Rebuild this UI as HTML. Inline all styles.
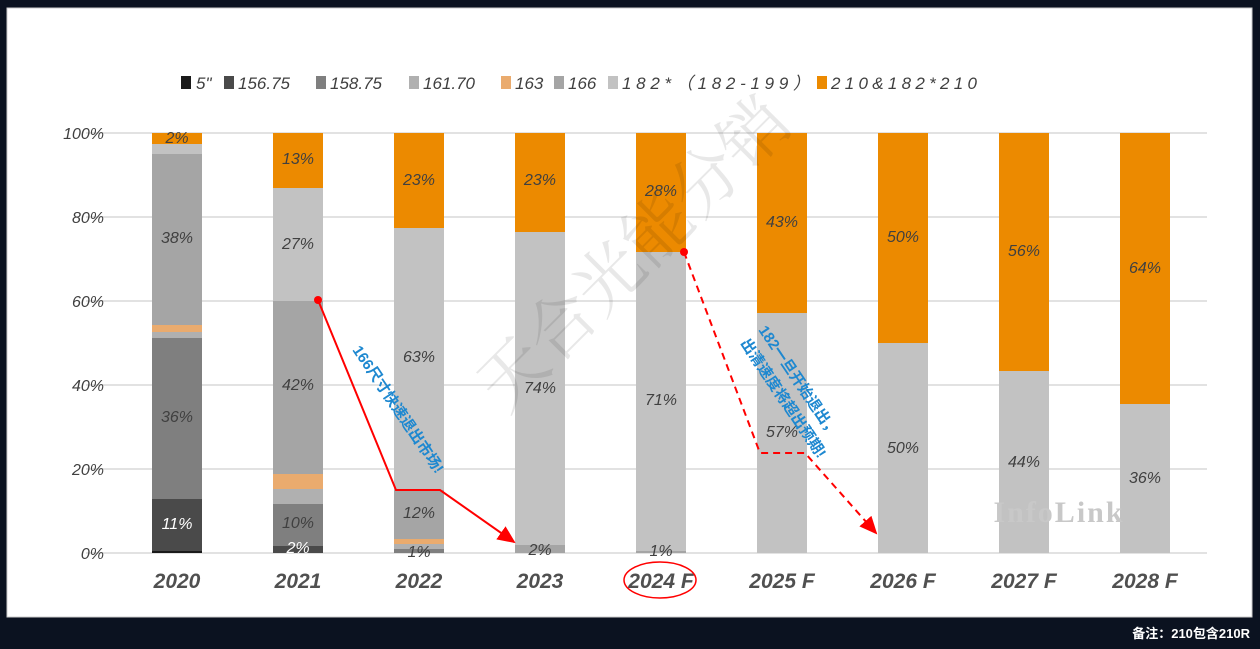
<!DOCTYPE html><html><head><meta charset="utf-8"><style>
body{margin:0;width:1260px;height:649px;background:#0b1220;overflow:hidden;font-family:"Liberation Sans","Noto Sans CJK SC",sans-serif}
</style></head><body>
<svg width="1260" height="649" xmlns="http://www.w3.org/2000/svg" style="position:absolute;left:0;top:0">
<defs><marker id="ar" markerWidth="10" markerHeight="10" refX="8" refY="5" orient="auto"><path d="M0,1 L9,5 L0,9 z" fill="#f00"/></marker></defs>
<rect x="0" y="0" width="1260" height="649" fill="#0b1220"/>
<rect x="7" y="8" width="1245" height="609" fill="#fff" stroke="#ccc"/>
<g font-style="italic" font-size="17" fill="#404040">
<rect x="181" y="76" width="10" height="13" fill="#1a1a1a"/><text x="196" y="89">5"</text>
<rect x="224" y="76" width="10" height="13" fill="#4a4a4a"/><text x="238" y="89">156.75</text>
<rect x="316" y="76" width="10" height="13" fill="#7f7f7f"/><text x="330" y="89">158.75</text>
<rect x="409" y="76" width="10" height="13" fill="#b0b0b0"/><text x="423" y="89">161.70</text>
<rect x="501" y="76" width="10" height="13" fill="#eaab6e"/><text x="515" y="89">163</text>
<rect x="554" y="76" width="10" height="13" fill="#a5a5a5"/><text x="568" y="89">166</text>
<rect x="608" y="76" width="10" height="13" fill="#c2c2c2"/><text x="622" y="89" textLength="188" lengthAdjust="spacing">182*（182-199）</text>
<rect x="817" y="76" width="10" height="13" fill="#ec8a00"/><text x="831" y="89" textLength="146" lengthAdjust="spacing">210&amp;182*210</text>
</g>
<g stroke="#d9d9d9" stroke-width="1.5">
<line x1="86" y1="133" x2="1207" y2="133"/><line x1="86" y1="217" x2="1207" y2="217"/><line x1="86" y1="301" x2="1207" y2="301"/><line x1="86" y1="385" x2="1207" y2="385"/><line x1="86" y1="469" x2="1207" y2="469"/><line x1="86" y1="553" x2="1207" y2="553"/>
</g>
<g font-style="italic" font-size="16" fill="#404040" text-anchor="end">
<text x="104" y="139">100%</text><text x="104" y="223">80%</text><text x="104" y="307">60%</text><text x="104" y="391">40%</text><text x="104" y="475">20%</text><text x="104" y="559">0%</text>
</g>
<rect x="152" y="133" width="50" height="11" fill="#ec8a00"/>
<rect x="152" y="144" width="50" height="10" fill="#c2c2c2"/>
<rect x="152" y="154" width="50" height="171" fill="#a5a5a5"/>
<rect x="152" y="325" width="50" height="7" fill="#eaab6e"/>
<rect x="152" y="332" width="50" height="6" fill="#b0b0b0"/>
<rect x="152" y="338" width="50" height="161" fill="#7f7f7f"/>
<rect x="152" y="499" width="50" height="52" fill="#4a4a4a"/>
<rect x="152" y="551" width="50" height="2" fill="#1a1a1a"/>
<rect x="273" y="133" width="50" height="55" fill="#ec8a00"/>
<rect x="273" y="188" width="50" height="113" fill="#c2c2c2"/>
<rect x="273" y="301" width="50" height="173" fill="#a5a5a5"/>
<rect x="273" y="474" width="50" height="15" fill="#eaab6e"/>
<rect x="273" y="489" width="50" height="15" fill="#b0b0b0"/>
<rect x="273" y="504" width="50" height="42" fill="#7f7f7f"/>
<rect x="273" y="546" width="50" height="7" fill="#4a4a4a"/>
<rect x="394" y="133" width="50" height="95" fill="#ec8a00"/>
<rect x="394" y="228" width="50" height="262" fill="#c2c2c2"/>
<rect x="394" y="490" width="50" height="49" fill="#a5a5a5"/>
<rect x="394" y="539" width="50" height="5" fill="#eaab6e"/>
<rect x="394" y="544" width="50" height="5" fill="#b0b0b0"/>
<rect x="394" y="549" width="50" height="4" fill="#7f7f7f"/>
<rect x="515" y="133" width="50" height="99" fill="#ec8a00"/>
<rect x="515" y="232" width="50" height="313" fill="#c2c2c2"/>
<rect x="515" y="545" width="50" height="8" fill="#a5a5a5"/>
<rect x="636" y="133" width="50" height="119" fill="#ec8a00"/>
<rect x="636" y="252" width="50" height="299" fill="#c2c2c2"/>
<rect x="636" y="551" width="50" height="2" fill="#a5a5a5"/>
<rect x="757" y="133" width="50" height="180" fill="#ec8a00"/><rect x="757" y="313" width="50" height="240" fill="#c2c2c2"/>
<rect x="878" y="133" width="50" height="210" fill="#ec8a00"/><rect x="878" y="343" width="50" height="210" fill="#c2c2c2"/>
<rect x="999" y="133" width="50" height="238" fill="#ec8a00"/><rect x="999" y="371" width="50" height="182" fill="#c2c2c2"/>
<rect x="1120" y="133" width="50" height="271" fill="#ec8a00"/><rect x="1120" y="404" width="50" height="149" fill="#c2c2c2"/>
<text x="1059" y="522" font-size="30" font-weight="bold" fill="#c8c8c8" text-anchor="middle" font-family="Liberation Serif,serif" letter-spacing="2">InfoLink</text>
<text x="650" y="270" font-size="68" fill="#000" fill-opacity="0.09" transform="rotate(-45 650 270)" text-anchor="middle" font-family="Noto Serif CJK SC,serif">天合光能分销</text>
<g font-style="italic" font-size="16" fill="#404040" text-anchor="middle">
<text x="177" y="143">2%</text><text x="177" y="243">38%</text><text x="177" y="422">36%</text><text x="177" y="529" fill="#fff">11%</text>
<text x="298" y="164">13%</text><text x="298" y="249">27%</text><text x="298" y="390">42%</text><text x="298" y="528">10%</text><text x="298" y="553" fill="#fff">2%</text>
<text x="419" y="185">23%</text><text x="419" y="362">63%</text><text x="419" y="518">12%</text><text x="419" y="557">1%</text>
<text x="540" y="185">23%</text><text x="540" y="393">74%</text><text x="540" y="555">2%</text>
<text x="661" y="196">28%</text><text x="661" y="405">71%</text><text x="661" y="556">1%</text>
<text x="782" y="227">43%</text><text x="782" y="437">57%</text>
<text x="903" y="242">50%</text><text x="903" y="453">50%</text>
<text x="1024" y="256">56%</text><text x="1024" y="467">44%</text>
<text x="1145" y="273">64%</text><text x="1145" y="483">36%</text>
</g>
<g font-style="italic" font-weight="bold" font-size="21" fill="#505050" text-anchor="middle">
<text x="177" y="588">2020</text><text x="298" y="588">2021</text><text x="419" y="588">2022</text><text x="540" y="588">2023</text><text x="661" y="588">2024 F</text><text x="782" y="588">2025 F</text><text x="903" y="588">2026 F</text><text x="1024" y="588">2027 F</text><text x="1145" y="588">2028 F</text>
</g>
<ellipse cx="660" cy="580" rx="36" ry="18" fill="none" stroke="#f00" stroke-width="1.5"/>
<circle cx="318" cy="300" r="4" fill="#f00"/>
<polyline points="318,300 396,490 440,490 514,542" fill="none" stroke="#f00" stroke-width="2" marker-end="url(#ar)"/>
<circle cx="684" cy="252" r="4" fill="#f00"/>
<polyline points="684,252 760,453 805,453 876,533" fill="none" stroke="#f00" stroke-width="2" stroke-dasharray="7,5" marker-end="url(#ar)"/>
<text x="352" y="350" font-size="15" font-weight="bold" fill="#1e88d0" transform="rotate(56 352 350)">166尺寸快速退出市场!</text>
<text x="758" y="330" font-size="15" font-weight="bold" fill="#1e88d0" transform="rotate(56 758 330)">182一旦开始退出，</text>
<text x="740" y="343" font-size="15" font-weight="bold" fill="#1e88d0" transform="rotate(56 740 343)">出清速度将超出预期!</text>
<text x="1250" y="638" font-size="13" font-weight="bold" fill="#fff" text-anchor="end">备注：210包含210R</text>
</svg>
</body></html>
